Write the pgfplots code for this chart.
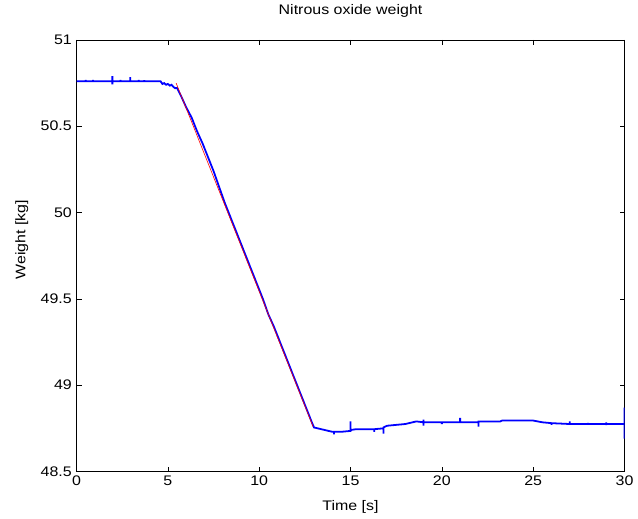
\documentclass[border=0pt]{standalone}
\usepackage{pgfplots}
\pgfplotsset{compat=1.18}
\usepackage{fontspec}
\setmainfont{Liberation Sans}[FakeStretch=1.15]
\begin{document}
\fontsize{14}{16}\selectfont
\begin{tikzpicture}
\begin{axis}[
  scale only axis, width=551bp, height=434bp,
  at={(0,0)}, anchor=south west,
  xmin=0, xmax=30, ymin=48.5, ymax=51,
  xtick={0,5,...,30}, ytick={48.5,49,...,51},
  yticklabel style={/pgf/number format/fixed,/pgf/number format/precision=1},
  /pgf/number format/assume math mode=true,
  tick align=inside, major tick length=5bp,
  axis line style={black, line width=0.6pt},
  tick style={black, line width=0.6pt},
  title={Nitrous oxide weight},
  title style={at={(axis description cs:0.5,1)}, anchor=center, yshift=23bp},
  xlabel={Time [s]},
  xlabel style={at={(axis description cs:0.5,0)}, anchor=center, yshift=-36bp},
  ylabel={Weight [kg]},
  ylabel style={at={(axis description cs:-0.0998,0.537)}, anchor=center, rotate=0},
  xticklabel style={yshift=0bp},
  yticklabel style={xshift=0bp},
]
\addplot[blue, line width=1.8pt, line join=miter] coordinates {
(0,50.76)(0.5,50.76)(0.5,50.768)(0.5,50.76)(0.9,50.76)(0.9,50.768)(0.9,50.76)(1.3,50.76)(1.3,50.755)(1.3,50.76)
(1.96,50.76)(1.96,50.79)(1.96,50.742)(1.96,50.76)(2.4,50.76)(2.4,50.768)(2.4,50.76)(2.94,50.76)(2.94,50.785)(2.94,50.76)
(3.4,50.76)(3.4,50.768)(3.4,50.76)(3.7,50.76)(3.7,50.767)(3.7,50.76)
(4.6,50.76)(4.7,50.745)(4.8,50.75)(4.9,50.74)(5.0,50.745)(5.1,50.735)(5.2,50.74)(5.3,50.728)(5.4,50.72)(5.5,50.722)(5.6,50.70)(5.7,50.68)
(6.0,50.61)(6.3,50.55)(6.6,50.47)(6.9,50.40)(7.2,50.32)(7.5,50.24)(7.8,50.15)(8.1,50.06)(8.4,49.98)(8.7,49.90)
(9.0,49.82)(9.3,49.74)(9.6,49.66)(9.9,49.58)(10.2,49.50)(10.5,49.41)(10.8,49.34)(11.1,49.26)(11.4,49.18)(11.7,49.10)
(12.0,49.02)(12.3,48.94)(12.6,48.86)(12.9,48.78)(13.0,48.755)
(13.2,48.75)(13.4,48.745)(13.6,48.74)(13.8,48.735)(14.0,48.73)(14.1,48.73)(14.1,48.715)(14.1,48.73)(14.5,48.73)
(15.0,48.735)(15.0,48.79)(15.0,48.74)(15.3,48.745)(16.0,48.745)(16.3,48.745)(16.3,48.73)(16.3,48.745)(16.8,48.75)(16.8,48.72)(16.8,48.755)
(17.0,48.765)(17.5,48.77)(18.0,48.775)(18.4,48.785)(18.6,48.79)(19.0,48.785)(19.0,48.80)(19.0,48.765)(19.0,48.785)
(20.0,48.785)(20.0,48.775)(20.0,48.785)(21.0,48.785)(21.0,48.81)(21.0,48.785)(22.0,48.785)(22.0,48.76)(22.0,48.79)
(23.2,48.79)(23.3,48.795)(24.0,48.795)(25.0,48.795)(25.5,48.785)(26.0,48.78)(26.0,48.77)(26.0,48.78)
(27.0,48.775)(27.0,48.79)(27.0,48.77)(27.0,48.775)(28.0,48.775)(28.0,48.782)(28.0,48.775)(29.0,48.775)(29.0,48.785)(29.0,48.768)(29.0,48.775)
(29.9,48.775)(30,48.775)(30,48.87)(30,48.69)(30,48.775)
};
\addplot[red, line width=0.6pt] coordinates {(5.45,50.75)(12.95,48.76)};
\end{axis}
\path[use as bounding box] (-77bp,-45bp) rectangle (561bp,472bp);
\end{tikzpicture}
\end{document}
